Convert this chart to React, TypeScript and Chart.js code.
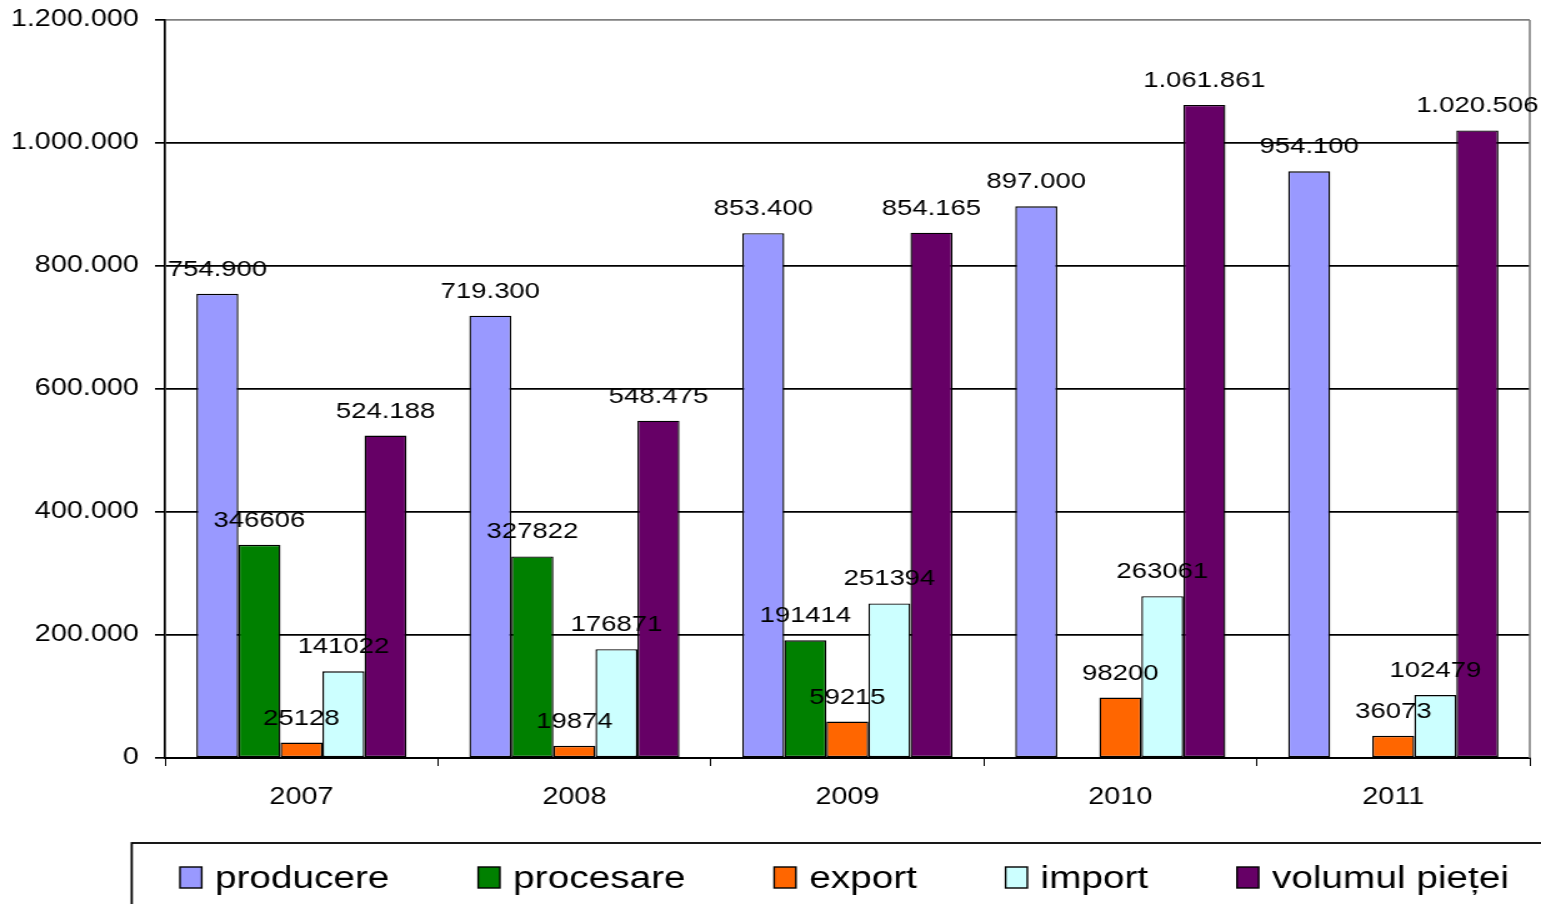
import React, { useEffect, useRef } from 'react';
import { Chart, registerables } from 'chart.js';

Chart.register(...registerables);

// ---- data ----
const categories = ['2007', '2008', '2009', '2010', '2011'];
const producere = [754900, 719300, 853400, 897000, 954100];
const procesare = [346606, 327822, 191414, null, null];
const exportVals = [25128, 19874, 59215, 98200, 36073];
const importVals = [141022, 176871, 251394, 263061, 102479];
const volumulPietei = [524188, 548475, 854165, 1061861, 1020506];
const yMin = 0;
const yMax = 1200000;
const yStep = 200000;

const seriesNames = ['producere', 'procesare', 'export', 'import', 'volumul pieței'];
const seriesColors = ['#9999FF', '#008000', '#FF6600', '#CCFFFF', '#660066'];
const seriesDotted = [true, false, false, false, true];

// ---- layout ----
const SX = 1.25; // horizontal stretch of the original picture
const W = Math.round(1541 / SX);
const H = 904;
const FONT = '"Liberation Sans", Arial, sans-serif';

const fmtDots = (v: number) => String(Math.round(v)).replace(/\B(?=(\d{3})+(?!\d))/g, '.');

const framePlugin = {
  id: 'frame',
  beforeDatasetsDraw(chart: any) {
    const { ctx, chartArea } = chart;
    ctx.save();
    ctx.strokeStyle = '#808080';
    ctx.lineWidth = 1.6;
    ctx.beginPath();
    ctx.moveTo(chartArea.right, chartArea.top);
    ctx.lineTo(chartArea.right, chartArea.bottom);
    ctx.stroke();
    ctx.restore();
  },
};

const valueLabelsPlugin = {
  id: 'valueLabels',
  afterDatasetsDraw(chart: any) {
    const ctx = chart.ctx;
    ctx.save();
    ctx.font = `22px ${FONT}`;
    ctx.fillStyle = '#000';
    ctx.textAlign = 'center';
    ctx.textBaseline = 'alphabetic';
    chart.data.datasets.forEach((ds: any, i: number) => {
      const meta = chart.getDatasetMeta(i);
      meta.data.forEach((el: any, j: number) => {
        const v = ds.data[j];
        if (v == null) return;
        const txt = ds.dotted ? fmtDots(v) : String(v);
        ctx.fillText(txt, el.x, el.y - 18);
      });
    });
    ctx.restore();
  },
};

const legendPlugin = {
  id: 'boxLegend',
  afterDraw(chart: any) {
    const ctx = chart.ctx;
    ctx.save();
    ctx.strokeStyle = '#000';
    ctx.lineWidth = 1.8;
    ctx.strokeRect(105.4, 843, 2000, 300);
    ctx.font = `31px ${FONT}`;
    ctx.textAlign = 'left';
    ctx.textBaseline = 'alphabetic';
    let x = 144;
    chart.data.datasets.forEach((ds: any) => {
      ctx.fillStyle = ds.backgroundColor;
      ctx.fillRect(x, 867, 17.4, 21);
      ctx.lineWidth = 1.4;
      ctx.strokeStyle = '#000';
      ctx.strokeRect(x, 867, 17.4, 21);
      ctx.fillStyle = '#000';
      ctx.fillText(ds.label, x + 28, 888);
      x += 28 + ctx.measureText(ds.label).width + 71;
    });
    ctx.restore();
  },
};

export default function App() {
  const ref = useRef<HTMLCanvasElement | null>(null);

  useEffect(() => {
    if (!ref.current) return;
    const seriesData = [producere, procesare, exportVals, importVals, volumulPietei];
    const chart = new Chart(ref.current, {
      type: 'bar',
      data: {
        labels: categories,
        datasets: seriesData.map((d, i) => ({
          label: seriesNames[i],
          data: d,
          backgroundColor: seriesColors[i],
          borderColor: '#000',
          borderWidth: 1.4,
          borderSkipped: false,
          categoryPercentage: 0.77,
          barPercentage: 1,
          dotted: seriesDotted[i],
        })) as any,
      },
      options: {
        responsive: false,
        devicePixelRatio: 1,
        animation: false,
        layout: { padding: { top: 20, right: 9, bottom: 0, left: 0 } },
        plugins: {
          legend: { display: false },
          tooltip: { enabled: false },
        },
        scales: {
          x: {
            afterFit: (s: any) => {
              s.height = H - 758;
            },
            grid: {
              display: true,
              offset: true,
              drawOnChartArea: false,
              drawTicks: true,
              tickLength: 8,
              color: '#000',
              lineWidth: 1,
            },
            border: { display: true, color: '#000', width: 2 },
            ticks: {
              color: '#000',
              font: { family: FONT, size: 23 },
              padding: 18,
              maxRotation: 0,
              autoSkip: false,
            },
          },
          y: {
            min: yMin,
            max: yMax,
            afterFit: (s: any) => {
              s.width = 132;
              s.paddingTop = 0;
              s.paddingBottom = 0;
            },
            grid: {
              color: (c: any) => (c.tick && c.tick.value === yMax ? '#808080' : '#000'),
              tickColor: '#000',
              lineWidth: 1.7,
              drawTicks: true,
              tickLength: 8,
            },
            border: { display: true, color: '#000', width: 1.7 },
            ticks: {
              stepSize: yStep,
              color: '#000',
              font: { family: FONT, size: 23 },
              padding: 13,
              callback: (v: any) => fmtDots(Number(v)),
            },
          },
        },
      },
      plugins: [framePlugin, valueLabelsPlugin, legendPlugin],
    });
    return () => chart.destroy();
  }, []);

  return (
    <div style={{ position: 'absolute', left: 0, top: 0, width: 1541, height: 904, background: '#fff' }}>
      <canvas
        ref={ref}
        width={W}
        height={H}
        style={{ width: '1541px', height: '904px', display: 'block' }}
      />
    </div>
  );
}
